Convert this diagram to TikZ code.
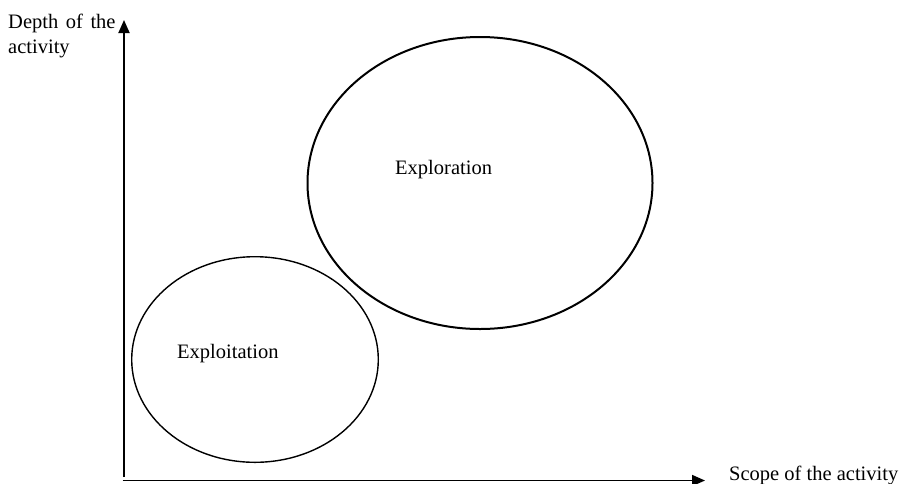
\documentclass[tikz,border=0pt]{standalone}
\usepackage{fontspec}
\setmainfont{Liberation Serif}
\usetikzlibrary{arrows.meta}
\begin{document}
\begin{tikzpicture}[x=1pt,y=-1pt,
  axis/.style={line width=1.8pt,-{Triangle[length=13pt,width=11pt]}},
  lbl/.style={font=\fontsize{20.5}{25}\selectfont,inner sep=0pt},
  bigell/.style={draw,line width=2pt},
  smallell/.style={draw,line width=1.4pt}]
\useasboundingbox (0,0) rectangle (899,483);
\coordinate (origin) at (124,480.5);
\coordinate (ytop) at (124,20);
\coordinate (xend) at (705,480.5);
\coordinate (ybot) at (124,477);
\coordinate (xbeg) at (122.5,480.5);
\draw[axis] (ybot) -- (ytop);
\draw[axis] (xbeg) -- (xend);
\draw[bigell] (480,183) ellipse [x radius=172.5, y radius=146];
\draw[smallell] (255,359.5) ellipse [x radius=123.3, y radius=102.8];
\node[lbl,anchor=base west] (depth1) at (8,28) {Depth\hspace{0.12em} of\hspace{0.12em} the};
\node[lbl,anchor=base west] (depth2) at (8,53) {activity};
\node[lbl,anchor=base west] (scope) at (729,480) {Scope of the activity};
\node[lbl,anchor=base west] (explor) at (395,174) {Exploration};
\node[lbl,anchor=base west] (exploit) at (177,358) {Exploitation};
\end{tikzpicture}
\end{document}
